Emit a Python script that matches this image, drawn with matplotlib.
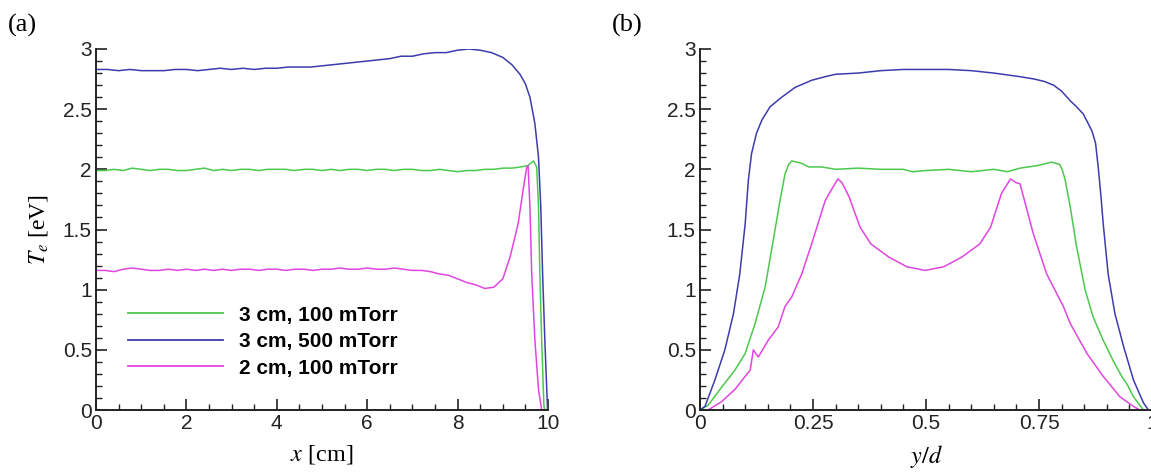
import matplotlib
matplotlib.use("Agg")
import matplotlib.pyplot as plt
from matplotlib.ticker import MultipleLocator

plt.rcParams['font.family'] = 'Liberation Sans'
plt.rcParams['mathtext.fontset'] = 'stix'

# colours of the three cases
c_green = '#4cc94c'
c_blue = '#3c3cae'
c_magenta = '#e046e0'

labels = ['3 cm, 100 mTorr', '3 cm, 500 mTorr', '2 cm, 100 mTorr']

# (a) Te along x [cm]
xa_green = [0, 0.2, 0.4, 0.6, 0.8, 1.0, 1.2, 1.4, 1.6, 1.8, 2.0, 2.2, 2.4, 2.6, 2.8, 3.0,
            3.2, 3.4, 3.6, 3.8, 4.0, 4.2, 4.4, 4.6, 4.8, 5.0, 5.2, 5.4, 5.6, 5.8, 6.0,
            6.2, 6.4, 6.6, 6.8, 7.0, 7.2, 7.4, 7.6, 7.8, 8.0, 8.2, 8.4, 8.6, 8.8, 9.0,
            9.2, 9.4, 9.55, 9.68, 9.75, 9.79, 9.82, 9.86, 9.91, 9.93]
te_a_green = [1.99, 1.99, 2.00, 1.99, 2.01, 2.00, 1.99, 2.00, 2.00, 1.99, 1.99, 2.00, 2.01, 1.99,
              2.00, 1.99, 2.00, 2.00, 1.99, 2.00, 2.00, 2.00, 1.99, 2.00, 2.00, 1.99, 2.00, 1.99,
              2.00, 2.00, 1.99, 2.00, 2.00, 1.99, 2.00, 2.00, 1.99, 1.99, 2.00, 1.99, 1.98, 1.99,
              1.99, 2.00, 2.00, 2.01, 2.01, 2.02, 2.03, 2.07, 2.02, 1.69, 1.13, 0.58, 0.03, 0.0]

xa_blue = [0, 0.25, 0.5, 0.75, 1.0, 1.25, 1.5, 1.75, 2.0, 2.25, 2.5, 2.75, 3.0, 3.25, 3.5,
           3.75, 4.0, 4.25, 4.5, 4.75, 5.0, 5.25, 5.5, 5.75, 6.0, 6.25, 6.5, 6.75, 7.0,
           7.25, 7.5, 7.75, 8.0, 8.25, 8.5, 8.75, 9.0, 9.2, 9.38, 9.5, 9.6, 9.71, 9.79,
           9.84, 9.88, 9.93, 9.99]
te_a_blue = [2.83, 2.83, 2.82, 2.83, 2.82, 2.82, 2.82, 2.83, 2.83, 2.82, 2.83, 2.84, 2.83, 2.84,
             2.83, 2.84, 2.84, 2.85, 2.85, 2.85, 2.86, 2.87, 2.88, 2.89, 2.90, 2.91, 2.92, 2.94,
             2.94, 2.96, 2.97, 2.97, 2.99, 3.00, 2.99, 2.97, 2.93, 2.87, 2.79, 2.71, 2.60, 2.38,
             2.10, 1.69, 1.14, 0.58, 0.0]

xa_magenta = [0, 0.2, 0.4, 0.6, 0.8, 1.0, 1.2, 1.4, 1.6, 1.8, 2.0, 2.2, 2.4, 2.6, 2.8, 3.0,
              3.2, 3.4, 3.6, 3.8, 4.0, 4.2, 4.4, 4.6, 4.8, 5.0, 5.2, 5.4, 5.6, 5.8, 6.0,
              6.2, 6.4, 6.6, 6.8, 7.0, 7.2, 7.4, 7.6, 7.8, 8.0, 8.2, 8.4, 8.6, 8.8, 9.0,
              9.16, 9.34, 9.45, 9.53, 9.56, 9.60, 9.64, 9.71, 9.79, 9.86]
te_a_magenta = [1.16, 1.16, 1.15, 1.17, 1.18, 1.17, 1.16, 1.16, 1.17, 1.16, 1.17, 1.16, 1.17,
                1.16, 1.17, 1.16, 1.17, 1.17, 1.16, 1.17, 1.17, 1.16, 1.17, 1.17, 1.16, 1.17,
                1.17, 1.18, 1.17, 1.17, 1.18, 1.17, 1.17, 1.18, 1.17, 1.16, 1.16, 1.15, 1.13,
                1.12, 1.09, 1.06, 1.04, 1.01, 1.02, 1.09, 1.27, 1.55, 1.83, 2.02, 2.03, 1.69,
                1.13, 0.58, 0.17, 0.0]

# (b) Te across the gap, y/d
yb_green = [0, 0.018, 0.048, 0.077, 0.10, 0.122, 0.144, 0.162, 0.177, 0.188, 0.196, 0.203,
            0.225, 0.24, 0.269, 0.30, 0.35, 0.40, 0.45, 0.47, 0.50, 0.55, 0.60, 0.65, 0.68,
            0.708, 0.745, 0.778, 0.796, 0.802, 0.808, 0.819, 0.833, 0.852, 0.870, 0.892,
            0.914, 0.933, 0.944, 0.959, 0.981]
te_b_green = [0.0, 0.04, 0.19, 0.33, 0.47, 0.72, 1.02, 1.41, 1.74, 1.96, 2.04, 2.07, 2.05,
              2.02, 2.02, 2.00, 2.01, 2.00, 2.00, 1.98, 1.99, 2.00, 1.98, 2.00, 1.98, 2.01,
              2.03, 2.06, 2.04, 1.99, 1.91, 1.69, 1.36, 1.00, 0.77, 0.58, 0.41, 0.28, 0.22,
              0.11, 0.0]

yb_blue = [0, 0.011, 0.033, 0.055, 0.074, 0.088, 0.10, 0.107, 0.114, 0.125, 0.137, 0.155,
           0.181, 0.21, 0.247, 0.277, 0.30, 0.35, 0.40, 0.45, 0.50, 0.55, 0.60, 0.65, 0.708,
           0.74, 0.762, 0.782, 0.80, 0.819, 0.833, 0.848, 0.867, 0.875, 0.881, 0.887, 0.892,
           0.903, 0.918, 0.937, 0.959, 0.981, 0.992]
te_b_blue = [0.0, 0.03, 0.25, 0.50, 0.80, 1.13, 1.55, 1.91, 2.13, 2.30, 2.41, 2.52, 2.60, 2.68,
             2.74, 2.77, 2.79, 2.80, 2.82, 2.83, 2.83, 2.83, 2.82, 2.80, 2.77, 2.75, 2.73, 2.70,
             2.65, 2.57, 2.52, 2.46, 2.32, 2.22, 2.02, 1.78, 1.55, 1.13, 0.80, 0.53, 0.25,
             0.06, 0.0]

yb_magenta = [0.018, 0.048, 0.077, 0.10, 0.111, 0.118, 0.129, 0.151, 0.173, 0.188, 0.203,
              0.225, 0.247, 0.277, 0.289, 0.305, 0.314, 0.33, 0.354, 0.378, 0.418, 0.458,
              0.498, 0.539, 0.579, 0.619, 0.643, 0.667, 0.687, 0.699, 0.708, 0.737, 0.767,
              0.804, 0.819, 0.856, 0.892, 0.929, 0.959, 0.973]
te_b_magenta = [0.0, 0.07, 0.17, 0.28, 0.33, 0.50, 0.44, 0.58, 0.69, 0.86, 0.94, 1.13, 1.38,
                1.74, 1.82, 1.92, 1.89, 1.77, 1.52, 1.38, 1.27, 1.19, 1.16, 1.19, 1.27, 1.38,
                1.52, 1.80, 1.92, 1.89, 1.88, 1.47, 1.13, 0.86, 0.72, 0.47, 0.28, 0.11, 0.03, 0.0]

fig = plt.figure(figsize=(11.51, 4.75), dpi=100)
ax1 = fig.add_axes([96 / 1151, 65 / 475, 452 / 1151, 361 / 475])
ax2 = fig.add_axes([700 / 1151, 65 / 475, 452 / 1151, 361 / 475])

lw = 1.1
ax1.plot(xa_green, te_a_green, color=c_green, lw=lw, label=labels[0])
ax1.plot(xa_blue, te_a_blue, color=c_blue, lw=lw, label=labels[1])
ax1.plot(xa_magenta, te_a_magenta, color=c_magenta, lw=lw, label=labels[2])

ax2.plot(yb_green, te_b_green, color=c_green, lw=lw)
ax2.plot(yb_blue, te_b_blue, color=c_blue, lw=lw)
ax2.plot(yb_magenta, te_b_magenta, color=c_magenta, lw=lw)

ax1.set_xlim(0, 10)
ax1.xaxis.set_major_locator(MultipleLocator(2))
ax1.xaxis.set_minor_locator(MultipleLocator(0.5))
ax2.set_xlim(0, 1)
ax2.set_xticks([0, 0.25, 0.5, 0.75, 1])
ax2.set_xticklabels(['0', '0.25', '0.5', '0.75', '1'])
ax2.xaxis.set_minor_locator(MultipleLocator(0.05))

for ax in (ax1, ax2):
    ax.set_ylim(0, 3)
    ax.set_yticks([0, 0.5, 1, 1.5, 2, 2.5, 3])
    ax.set_yticklabels(['0', '0.5', '1', '1.5', '2', '2.5', '3'])
    ax.yaxis.set_minor_locator(MultipleLocator(0.1))
    ax.spines['top'].set_visible(False)
    ax.spines['right'].set_visible(False)
    ax.spines['left'].set_linewidth(1.4)
    ax.spines['bottom'].set_linewidth(1.4)
    ax.tick_params(which='major', direction='in', length=8, width=1.2,
                   labelsize=15, colors='#222222', pad=3)
    ax.tick_params(which='minor', direction='in', length=4, width=1.0, colors='#222222')
    for s in ax.spines.values():
        s.set_color('#222222')

serif = 'Liberation Serif'
ax1.set_xlabel(r'$x$ [cm]', fontsize=17.5, family=serif, labelpad=7)
ax1.set_ylabel(r'$T_e$ [eV]', fontsize=17, family=serif, labelpad=9)
ax2.set_xlabel(r'$y/d$', fontsize=17.5, family=serif, labelpad=7)

fig.text(8 / 1151, 1 - 32 / 475, '(a)', fontsize=19, family=serif)
fig.text(612 / 1151, 1 - 32 / 475, '(b)', fontsize=19, family=serif)

leg = ax1.legend(loc='center left', bbox_to_anchor=(0.07, 0.189), frameon=False,
                 borderpad=0, borderaxespad=0, handlelength=4.56, handletextpad=0.77,
                 labelspacing=0.36, prop={'family': 'Liberation Sans', 'weight': 'bold',
                                          'size': 15})
for line in leg.get_lines():
    line.set_linewidth(1.3)

fig.savefig('out.png', dpi=100)
